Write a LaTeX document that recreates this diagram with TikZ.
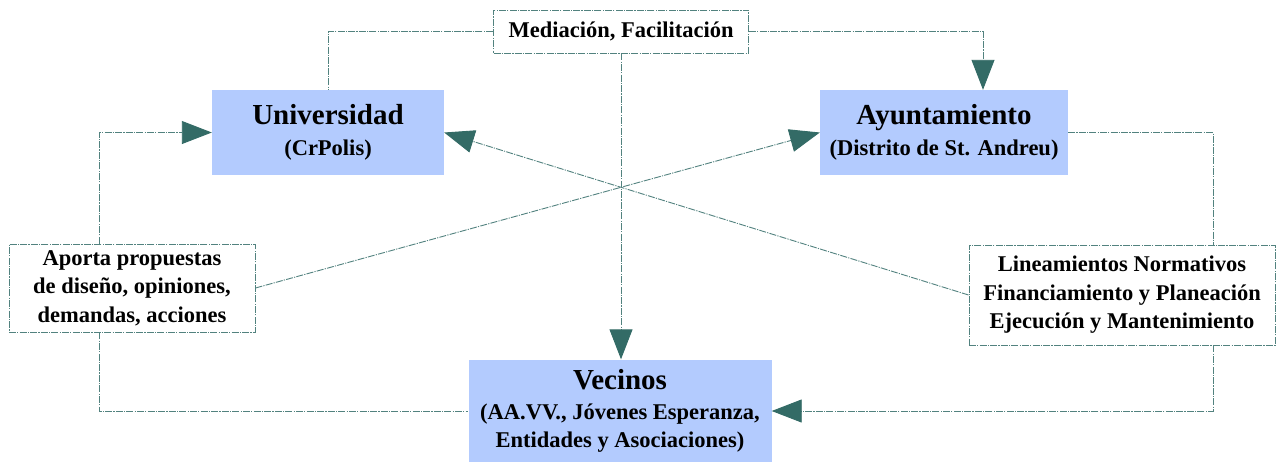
\documentclass[tikz,border=0pt]{standalone}
\usepackage{fontspec}
\setmainfont{Liberation Serif}
\usetikzlibrary{arrows.meta}
\definecolor{boxfill}{HTML}{B3CBFE}
\definecolor{linec}{HTML}{52827F}
\definecolor{tipc}{HTML}{336B66}
\begin{document}
\begin{tikzpicture}[x=1pt,y=-1pt,
  every node/.style={inner sep=0pt, align=center, font=\bfseries\fontsize{22.5}{28.5}\selectfont},
  bluebox/.style={fill=boxfill, draw=none},
  dd/.style={dash pattern=on 7pt off 1.2pt on 1.2pt off 1.2pt},
  whitebox/.style={fill=white, draw=linec, dd, line width=0.9pt},
  conn/.style={draw=linec, line width=0.9pt, dd},
  arr/.style={conn, -{Triangle[length=30pt,width=23pt,fill=tipc,color=tipc]}}]
\useasboundingbox[fill=white] (0,0) rectangle (1277,461);

\node[whitebox, minimum width=255pt, minimum height=43pt] (med) at (621,31.5) {Mediación, Facilitación};
\node[bluebox, minimum width=232pt, minimum height=85pt] (uni) at (328,132.5)
  {{\fontsize{29}{30}\selectfont Universidad}\\[2pt] (CrPolis)};
\node[bluebox, minimum width=248pt, minimum height=85pt] (ayu) at (944,132.5)
  {{\fontsize{29}{30}\selectfont Ayuntamiento}\\[2pt] (Distrito de St. Andreu)};
\node[whitebox, minimum width=246pt, minimum height=88pt] (apo) at (132,288)
  {Aporta propuestas\\ de diseño, opiniones,\\ demandas, acciones};
\node[whitebox, minimum width=306pt, minimum height=100pt] (lin) at (1122,295)
  {Lineamientos Normativos\\ Financiamiento y Planeación\\ Ejecución y Mantenimiento};
\node[bluebox, minimum width=303pt, minimum height=103pt] (vec) at (620,411)
  {{\fontsize{29}{30}\selectfont Vecinos}\\[1pt] (AA.VV., Jóvenes Esperanza,\\ Entidades y Asociaciones)};

\draw[conn] (med.west) -| (uni.north);
\draw[arr] (med.east) -| ([xshift=39pt]ayu.north);
\draw[arr] (med.south) -- (med.south |- vec.north);
\draw[arr] ([xshift=-33pt]apo.north) |- (uni.west);
\draw[conn] ([xshift=-33pt]apo.south) |- (vec.west);
\draw[arr] (apo.east) -- (ayu.west);
\draw[arr] (lin.west) -- (uni.east);
\draw[conn] (ayu.east) -| ([xshift=91pt]lin.north);
\draw[arr] ([xshift=91pt]lin.south) |- (vec.east);
\end{tikzpicture}
\end{document}
